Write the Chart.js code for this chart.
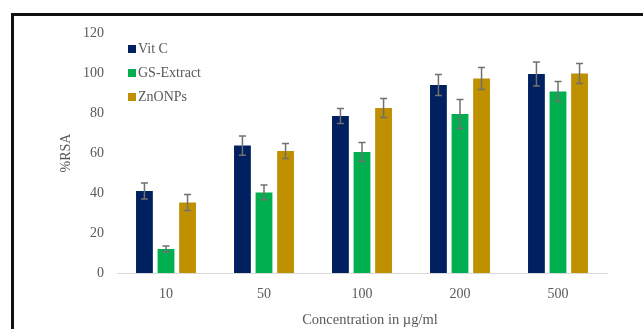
<!DOCTYPE html>
<html>
<head>
<meta charset="utf-8">
<script src="https://cdn.jsdelivr.net/npm/chart.js@4/dist/chart.umd.min.js"></script>
<style>
  html, body { margin: 0; padding: 0; background: #fff; }
  #wrap { position: relative; width: 643px; height: 329px; overflow: hidden; }
  #frame { position: absolute; left: 11px; top: 13px; width: 640px; height: 320px;
           border-top: 3px solid #111; border-left: 3px solid #111; pointer-events: none; }
</style>
</head>
<body>
<div id="wrap">
  <canvas id="MyChart" width="643" height="329"></canvas>
  <div id="frame"></div>
</div>
<script>
const concentrations = ['10', '50', '100', '200', '500'];

const vitC = [41, 63.7, 78.5, 94, 99.5];
const gsExtract = [12, 40.3, 60.5, 79.5, 90.7];
const znonps = [35.3, 61, 82.5, 97.3, 99.8];

const vitCErr = [4, 4.8, 3.7, 5.3, 6];
const gsExtractErr = [1.5, 3.7, 4.8, 7.3, 5];
const znonpsErr = [4, 3.7, 4.8, 5.5, 5];

const yTicks = [0, 20, 40, 60, 80, 100, 120];

const xTitle = 'Concentration in µg/ml';

const serif = "'Liberation Serif', 'Times New Roman', serif";
const grey = '#595959';

// error bars drawn on top of each bar
const errorBars = {
  id: 'errorBars',
  afterDatasetsDraw(chart) {
    const ctx = chart.ctx;
    const y = chart.scales.y;
    ctx.save();
    ctx.strokeStyle = '#707070';
    ctx.lineWidth = 1.5;
    chart.data.datasets.forEach((ds, i) => {
      const meta = chart.getDatasetMeta(i);
      meta.data.forEach((bar, j) => {
        const v = ds.data[j], e = ds.errors[j];
        const top = y.getPixelForValue(v + e);
        const bot = y.getPixelForValue(v - e);
        ctx.beginPath();
        ctx.moveTo(bar.x, top); ctx.lineTo(bar.x, bot);
        ctx.moveTo(bar.x - 3.5, top); ctx.lineTo(bar.x + 3.5, top);
        ctx.moveTo(bar.x - 3.5, bot); ctx.lineTo(bar.x + 3.5, bot);
        ctx.stroke();
      });
    });
    ctx.restore();
  }
};

// small legend in the top left of the plot, and the x title a bit off centre like the original
const cornerLegend = {
  id: 'cornerLegend',
  afterDraw(chart) {
    const ctx = chart.ctx;
    const a = chart.chartArea;
    ctx.save();
    ctx.font = '14px ' + serif;
    ctx.textBaseline = 'middle';
    chart.data.datasets.forEach((ds, i) => {
      const cy = a.top + 16 + i * 24;
      const x = a.left + 11;
      ctx.fillStyle = ds.backgroundColor;
      ctx.fillRect(x, cy - 4, 8, 8);
      ctx.fillStyle = grey;
      ctx.fillText(ds.label, x + 10, cy);
    });
    ctx.font = '14.5px ' + serif;
    ctx.textAlign = 'center';
    ctx.fillStyle = grey;
    ctx.fillText(xTitle, (a.left + a.right) / 2 + 8, 320);
    ctx.restore();
  }
};

const data = {
  labels: concentrations,
  datasets: [
    { label: 'Vit C', data: vitC, errors: vitCErr, backgroundColor: '#002060' },
    { label: 'GS-Extract', data: gsExtract, errors: gsExtractErr, backgroundColor: '#00B050' },
    { label: 'ZnONPs', data: znonps, errors: znonpsErr, backgroundColor: '#BF9000' }
  ]
};

const config = {
  type: 'bar',
  data: data,
  options: {
    responsive: false,
    animation: false,
    categoryPercentage: 0.66,
    barPercentage: 0.78,
    layout: { padding: { left: 52, right: 36, top: 33, bottom: 0 } },
    plugins: {
      legend: { display: false },
      tooltip: { enabled: false }
    },
    scales: {
      x: {
        grid: { display: false, drawTicks: false },
        border: { display: true, color: '#d9d9d9', width: 1 },
        ticks: { color: grey, font: { family: serif, size: 14 }, padding: 13 },
        afterFit: s => { s.height = 56; }
      },
      y: {
        min: 0, max: 120,
        afterBuildTicks: s => { s.ticks = yTicks.map(v => ({ value: v })); },
        grid: { display: false, drawTicks: false },
        border: { display: false },
        ticks: { color: grey, font: { family: serif, size: 14 }, padding: 13 },
        title: { display: true, text: '%RSA', color: grey,
                 font: { family: serif, size: 14 }, padding: { top: 6, bottom: 0 } },
        afterFit: s => { s.width = 65; }
      }
    }
  },
  plugins: [errorBars, cornerLegend]
};

const myChart = new Chart(document.getElementById('MyChart'), config);
</script>
</body>
</html>
